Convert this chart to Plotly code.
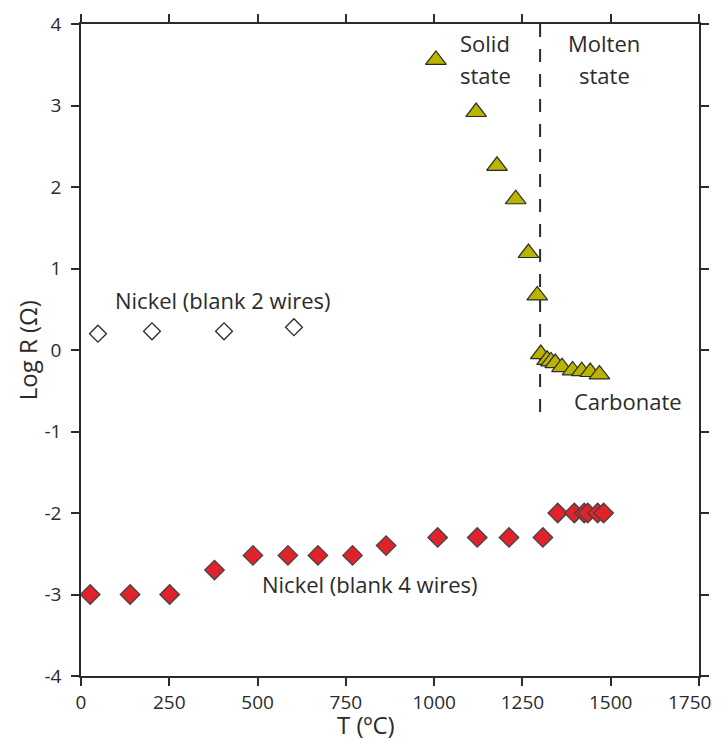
import plotly.graph_objects as go

# Nickel, blank 2 wires (open diamonds)
ni2_T = [48, 201, 405, 603]
ni2_logR = [0.20, 0.23, 0.23, 0.28]

# Carbonate (triangles)
carb_T = [1005, 1119, 1178, 1231, 1267, 1292, 1302, 1320, 1331, 1343, 1362, 1392, 1418, 1442, 1468]
carb_logR = [3.56, 2.92, 2.26, 1.85, 1.19, 0.67, -0.05, -0.12, -0.14, -0.16, -0.21, -0.25, -0.26, -0.27, -0.30]

# Nickel, blank 4 wires (red diamonds)
ni4_T = [26, 139, 251, 378, 487, 586, 671, 769, 864, 1010, 1122, 1212, 1308, 1350, 1397, 1425, 1435, 1463, 1480]
ni4_logR = [-3.0, -3.0, -3.0, -2.70, -2.52, -2.52, -2.52, -2.52, -2.40, -2.30, -2.30, -2.30, -2.30,
            -2.0, -2.0, -2.0, -2.0, -2.0, -2.0]

# Solid/molten boundary
boundary_T = [1300, 1300]
boundary_logR = [4.0, -0.82]

x_ticks = [0, 250, 500, 750, 1000, 1250, 1500, 1750]
x_ticktext = ["0", "250", "500", "750", "1000", "1250", "1500", ""]  # last one drawn as annotation (edge)
x_last_label = "1750"
y_ticks = [-4, -3, -2, -1, 0, 1, 2, 3, 4]

FONT = "Open Sans"
INK = "#2b2b2b"

fig = go.Figure()

fig.add_trace(go.Scatter(x=boundary_T, y=boundary_logR, mode="lines",
                         line=dict(color=INK, width=2, dash="13px,12px"),
                         showlegend=False, hoverinfo="skip"))

fig.add_trace(go.Scatter(x=ni2_T, y=ni2_logR, mode="markers",
                         marker=dict(symbol="diamond", size=13, color="white",
                                     line=dict(color=INK, width=1.3)),
                         showlegend=False))

fig.add_trace(go.Scatter(x=ni4_T, y=ni4_logR, mode="markers",
                         marker=dict(symbol="diamond", size=15, color="#e0222a",
                                     line=dict(color="#444444", width=1.3)),
                         showlegend=False))

fig.add_trace(go.Scatter(x=carb_T, y=carb_logR, mode="markers",
                         marker=dict(symbol="triangle-up", size=18, color="#b8b400",
                                     line=dict(color=INK, width=1.2)),
                         showlegend=False))

ann_font = dict(family=FONT, size=22, color=INK)
annotations = [
    dict(x=1144, y=3.77, text="Solid"),
    dict(x=1144, y=3.38, text="state"),
    dict(x=1481, y=3.77, text="Molten"),
    dict(x=1481, y=3.38, text="state"),
    dict(x=1549, y=-0.63, text="Carbonate"),
    dict(x=402, y=0.61, text="Nickel (blank 2 wires)"),
    dict(x=818, y=-2.87, text="Nickel (blank 4 wires)"),
]
for a in annotations:
    fig.add_annotation(x=a["x"], y=a["y"], text=a["text"], showarrow=False,
                       font=ann_font, xanchor="center", yanchor="middle")

# last x tick label kept inside the visible page
fig.add_annotation(x=1, xref="paper", y=0, yref="paper", text=x_last_label, showarrow=False,
                   xanchor="right", yanchor="middle", xshift=14, yshift=-26,
                   font=dict(family=FONT, size=19, color=INK))

title_font = dict(family=FONT, size=24, color=INK)
# axis titles placed as annotations for exact positioning
fig.add_annotation(x=807, xref="x", y=-0.074, yref="paper", text="T (ºC)",
                   showarrow=False, font=title_font, xanchor="center", yanchor="middle")
fig.add_annotation(x=-0.087, xref="paper", y=0, yref="y", text="Log R (Ω)", textangle=-90,
                   showarrow=False, font=title_font, xanchor="center", yanchor="middle")

axis_common = dict(showgrid=False, zeroline=False, showline=True, linecolor=INK,
                   linewidth=1.5, ticks="outside", ticklen=8, tickwidth=1.5,
                   tickcolor=INK, mirror="ticks", automargin=False,
                   tickfont=dict(family=FONT, size=19, color=INK))

fig.update_xaxes(range=[0, 1750], tickvals=x_ticks, ticktext=x_ticktext,
                 ticklabelstandoff=0, **axis_common)
fig.update_yaxes(range=[-4, 4], tickvals=y_ticks, ticktext=[str(v) for v in y_ticks],
                 ticklabelstandoff=6, **axis_common)

fig.update_layout(width=714, height=732, plot_bgcolor="white", paper_bgcolor="white",
                  margin=dict(l=73, r=23, t=16, b=64), showlegend=False,
                  font=dict(family=FONT, color=INK))

fig.write_html("out.html")
